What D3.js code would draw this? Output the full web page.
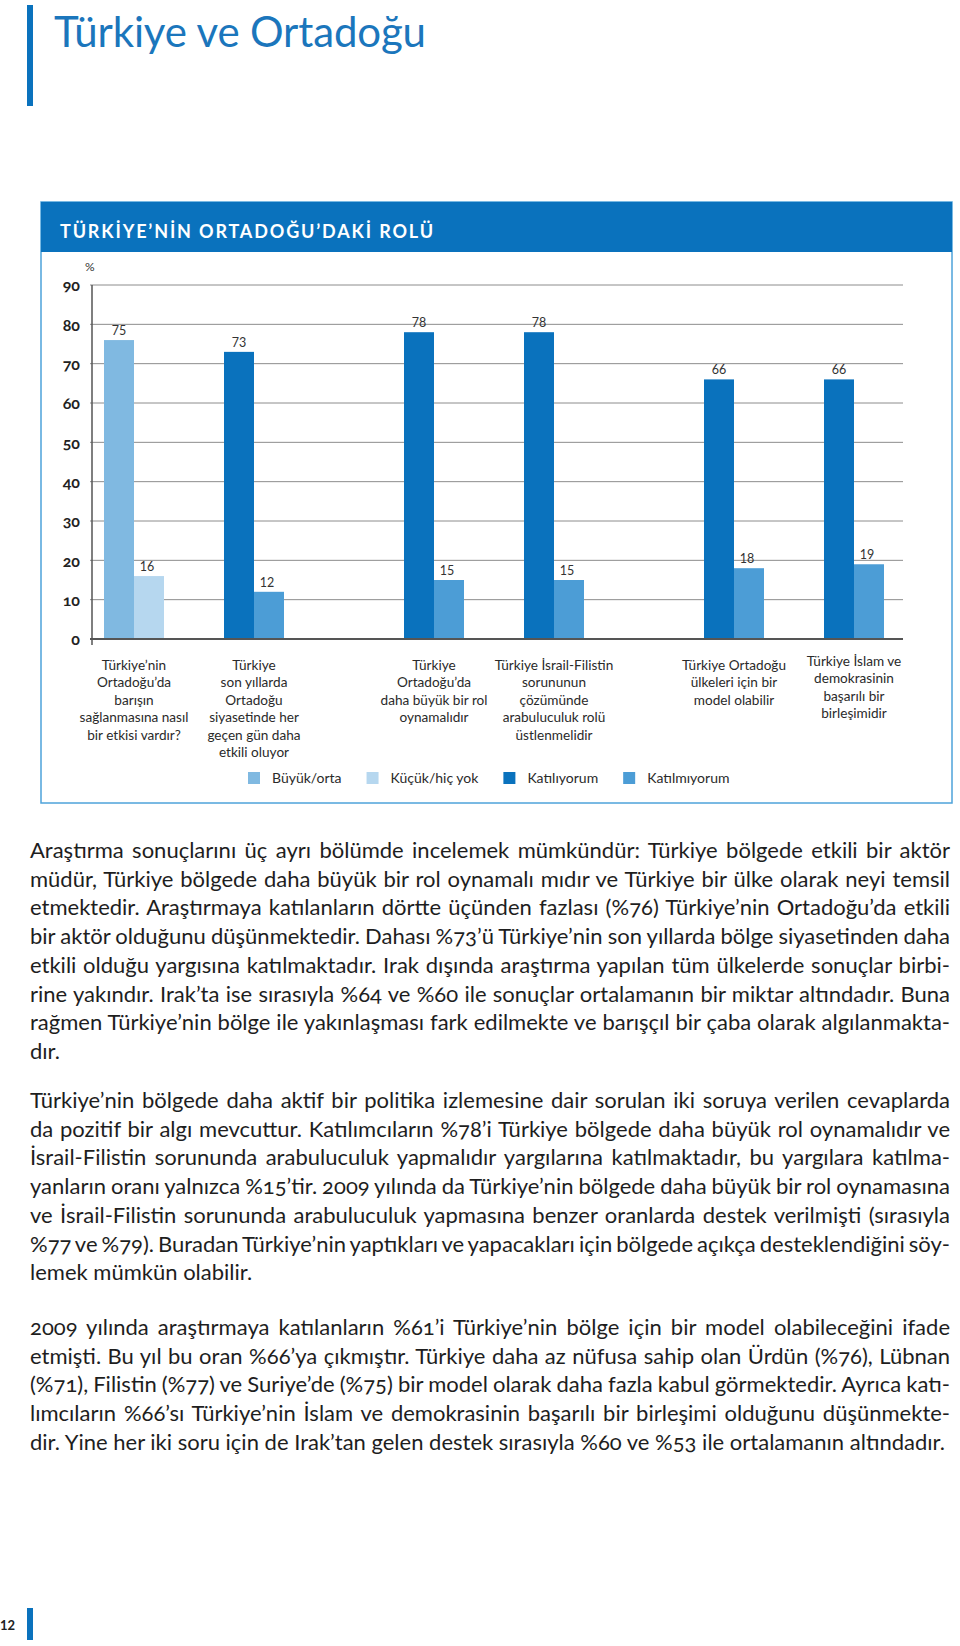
<!DOCTYPE html>
<html><head><meta charset="utf-8">
<script src="https://cdn.jsdelivr.net/npm/d3@7"></script>
<style>
html,body{margin:0;padding:0;background:#fff;}
svg{display:block;font-family:Lato,"Open Sans",sans-serif;font-variant-numeric:oldstyle-nums;}
</style></head>
<body>
<svg id="page" width="960" height="1646"></svg>
<script>
// ---------- data ----------
const categories = ["q1","q2","q3","q4","q5","q6"];
const categorySections = ["etki","etki","rol","rol","model","model"];
const sections = ["etki","rol","model"];
const categoryLabels = [
  ["Türkiye’nin","Ortadoğu’da","barışın","sağlanmasına nasıl","bir etkisi vardır?"],
  ["Türkiye","son yıllarda","Ortadoğu","siyasetinde her","geçen gün daha","etkili oluyor"],
  ["Türkiye","Ortadoğu’da","daha büyük bir rol","oynamalıdır"],
  ["Türkiye İsrail-Filistin","sorununun","çözümünde","arabuluculuk rolü","üstlenmelidir"],
  ["Türkiye Ortadoğu","ülkeleri için bir","model olabilir"],
  ["Türkiye İslam ve","demokrasinin","başarılı bir","birleşimidir"]
];
const firstSeries  = ["Büyük/orta","Katılıyorum","Katılıyorum","Katılıyorum","Katılıyorum","Katılıyorum"];
const secondSeries = ["Küçük/hiç yok","Katılmıyorum","Katılmıyorum","Katılmıyorum","Katılmıyorum","Katılmıyorum"];
const firstValues  = [76, 73, 78, 78, 66, 66];
const secondValues = [16, 12, 15, 15, 18, 19];
const firstLabels  = ["75","73","78","78","66","66"];
const secondLabels = ["16","12","15","15","18","19"];
const legendKeys = ["Büyük/orta","Küçük/hiç yok","Katılıyorum","Katılmıyorum"];
const legendColors = ["#80b9e1","#b6d7ef","#0a72bd","#4c9dd6"];
const yTicks = [0,10,20,30,40,50,60,70,80,90];

const pageTitle = "Türkiye ve Ortadoğu";
const chartTitle = "TÜRKİYE’NİN ORTADOĞU’DAKİ ROLÜ";
const paragraphs = [
 ["Araştırma sonuçlarını üç ayrı bölümde incelemek mümkündür: Türkiye bölgede etkili bir aktör",
  "müdür, Türkiye bölgede daha büyük bir rol oynamalı mıdır ve Türkiye bir ülke olarak neyi temsil",
  "etmektedir. Araştırmaya katılanların dörtte üçünden fazlası (%76) Türkiye’nin Ortadoğu’da etkili",
  "bir aktör olduğunu düşünmektedir. Dahası %73’ü Türkiye’nin son yıllarda bölge siyasetinden daha",
  "etkili olduğu yargısına katılmaktadır. Irak dışında araştırma yapılan tüm ülkelerde sonuçlar birbi-",
  "rine yakındır. Irak’ta ise sırasıyla %64 ve %60 ile sonuçlar ortalamanın bir miktar altındadır. Buna",
  "rağmen Türkiye’nin bölge ile yakınlaşması fark edilmekte ve barışçıl bir çaba olarak algılanmakta-",
  "dır."],
 ["Türkiye’nin bölgede daha aktif bir politika izlemesine dair sorulan iki soruya verilen cevaplarda",
  "da pozitif bir algı mevcuttur. Katılımcıların %78’i Türkiye bölgede daha büyük rol oynamalıdır ve",
  "İsrail-Filistin sorununda arabuluculuk yapmalıdır yargılarına katılmaktadır, bu yargılara katılma-",
  "yanların oranı yalnızca %15’tir. 2009 yılında da Türkiye’nin bölgede daha büyük bir rol oynamasına",
  "ve İsrail-Filistin sorununda arabuluculuk yapmasına benzer oranlarda destek verilmişti (sırasıyla",
  "%77 ve %79). Buradan Türkiye’nin yaptıkları ve yapacakları için bölgede açıkça desteklendiğini söy-",
  "lemek mümkün olabilir."],
 ["2009 yılında araştırmaya katılanların %61’i Türkiye’nin bölge için bir model olabileceğini ifade",
  "etmişti. Bu yıl bu oran %66’ya çıkmıştır. Türkiye daha az nüfusa sahip olan Ürdün (%76), Lübnan",
  "(%71), Filistin (%77) ve Suriye’de (%75) bir model olarak daha fazla kabul görmektedir. Ayrıca katı-",
  "lımcıların %66’sı Türkiye’nin İslam ve demokrasinin başarılı bir birleşimi olduğunu düşünmekte-",
  "dir. Yine her iki soru için de Irak’tan gelen destek sırasıyla %60 ve %53 ile ortalamanın altındadır."]
];
const pageNumber = "12";

// ---------- layout ----------
const svg = d3.select("#page");
const blue = "#0a72bd";

// page title
svg.append("rect").attr("x",27).attr("y",5).attr("width",6).attr("height",101).attr("fill",blue);
svg.append("text").attr("x",54).attr("y",47).attr("font-size",42).attr("fill","#1b76bc")
  .attr("textLength",372).attr("lengthAdjust","spacing").text(pageTitle);

// chart box
const box = {x:41, y:202, w:911, h:601};
svg.append("rect").attr("x",box.x).attr("y",box.y).attr("width",box.w).attr("height",box.h)
  .attr("fill","#fff").attr("stroke","#4ea3da").attr("stroke-width",1.5);
svg.append("rect").attr("x",box.x).attr("y",box.y).attr("width",box.w).attr("height",50).attr("fill",blue);
svg.append("text").attr("x",60).attr("y",238).attr("font-size",18).attr("font-weight",700)
  .attr("textLength",373).attr("lengthAdjust","spacing").attr("fill","#fff").text(chartTitle);

// scales
const y = d3.scaleLinear().domain([0,90]).range([639,285]);
const xSection = d3.scaleBand().domain(sections).range([104,884]).paddingInner(0.4).paddingOuter(0);
const xCat = d3.scaleBand().domain([0,1]).range([0, xSection.bandwidth()]).paddingInner(0.5).paddingOuter(0);
const xBar = d3.scaleBand().domain(["a","b"]).range([0, xCat.bandwidth()]);
const color = d3.scaleOrdinal().domain(legendKeys).range(legendColors);

const groupX = (i) => {
  const sec = categorySections[i];
  const idx = categorySections.slice(0,i).filter(s=>s===sec).length;
  return xSection(sec) + xCat(idx);
};

// grid
const plotLeft = 90, plotRight = 903;
svg.append("g").selectAll("line").data(yTicks.filter(t=>t>0)).join("line")
  .attr("x1",plotLeft).attr("x2",plotRight).attr("y1",d=>y(d)).attr("y2",d=>y(d))
  .attr("stroke","#8c8c8c").attr("stroke-width",1);
const yAxis = svg.append("g").attr("transform","translate(80,0)")
  .call(d3.axisLeft(y).tickValues(yTicks).tickSize(0).tickPadding(0));
yAxis.select(".domain").remove();
yAxis.selectAll("text").attr("font-family","Lato, sans-serif").attr("font-size",16)
  .attr("font-weight",700).attr("fill","#222").attr("dy","0.36em")
  .style("font-variant-numeric","oldstyle-nums");
svg.append("text").attr("x",85).attr("y",271).attr("font-size",12).attr("fill","#333").text("%");

// bars
const bars = svg.append("g");
categories.forEach((c,i)=>{
  const gx = groupX(i);
  const g = bars.append("g");
  g.append("rect").attr("x",gx+xBar("a")).attr("y",y(firstValues[i]))
    .attr("width",xBar.bandwidth()).attr("height",y(0)-y(firstValues[i]))
    .attr("fill",color(firstSeries[i]));
  g.append("rect").attr("x",gx+xBar("b")).attr("y",y(secondValues[i]))
    .attr("width",xBar.bandwidth()).attr("height",y(0)-y(secondValues[i]))
    .attr("fill",color(secondSeries[i]));
  g.append("text").attr("x",gx+xBar("a")+xBar.bandwidth()/2).attr("y",y(firstValues[i])-5)
    .attr("text-anchor","middle").attr("font-size",12.5).attr("fill","#333").style("font-variant-numeric","lining-nums").text(firstLabels[i]);
  g.append("text").attr("x",gx+xBar("b")+xBar.bandwidth()/2-2).attr("y",y(secondValues[i])-5)
    .attr("text-anchor","middle").attr("font-size",12.5).attr("fill","#333").style("font-variant-numeric","lining-nums").text(secondLabels[i]);
  const t = svg.append("text").attr("text-anchor","middle").attr("font-size",13.6).attr("fill","#2a2a2a");
  categoryLabels[i].forEach((line,k)=>{
    t.append("tspan").attr("x",gx+xCat.bandwidth()/2).attr("y",670 + k*17.4 - (i===5?4:0)).text(line);
  });
});

// zero line and y axis line
svg.append("line").attr("x1",plotLeft).attr("x2",plotRight).attr("y1",y(0)).attr("y2",y(0))
  .attr("stroke","#555").attr("stroke-width",2);
svg.append("line").attr("x1",92).attr("x2",92).attr("y1",y(90)).attr("y2",y(0)+6)
  .attr("stroke","#555").attr("stroke-width",1.5);

// legend
const legend = svg.append("g");
let lx = 248;
legendKeys.forEach((k,i)=>{
  legend.append("rect").attr("x",lx).attr("y",772).attr("width",12).attr("height",12).attr("fill",color(k));
  const tx = legend.append("text").attr("x",lx+24).attr("y",783).attr("font-size",14).attr("fill","#2a2a2a").text(k);
  lx = lx + 24 + tx.node().getComputedTextLength() + 25;
});

// body paragraphs, justified
const bodyLeft = 30, bodyRight = 950, lineH = 28.7;
const paraStarts = [858, 1108, 1335];
paragraphs.forEach((lines,p)=>{
  lines.forEach((line,k)=>{
    const t = svg.append("text").attr("x",bodyLeft).attr("y",paraStarts[p]+k*lineH)
      .attr("font-size",22).attr("fill","#1e1e1e").text(line);
    const isLast = k===lines.length-1;
    if(!isLast){
      const w = t.node().getComputedTextLength();
      const spaces = (line.match(/ /g)||[]).length;
      if(spaces>0) t.attr("word-spacing",((bodyRight-bodyLeft)-w)/spaces);
    }
  });
});

// page number
svg.append("text").attr("x",15).attr("y",1630).attr("text-anchor","end").attr("font-size",13)
  .attr("font-weight",700).attr("fill","#222").style("font-variant-numeric","lining-nums").text(pageNumber);
svg.append("rect").attr("x",27).attr("y",1608).attr("width",6).attr("height",32).attr("fill",blue);
</script>
</body></html>
